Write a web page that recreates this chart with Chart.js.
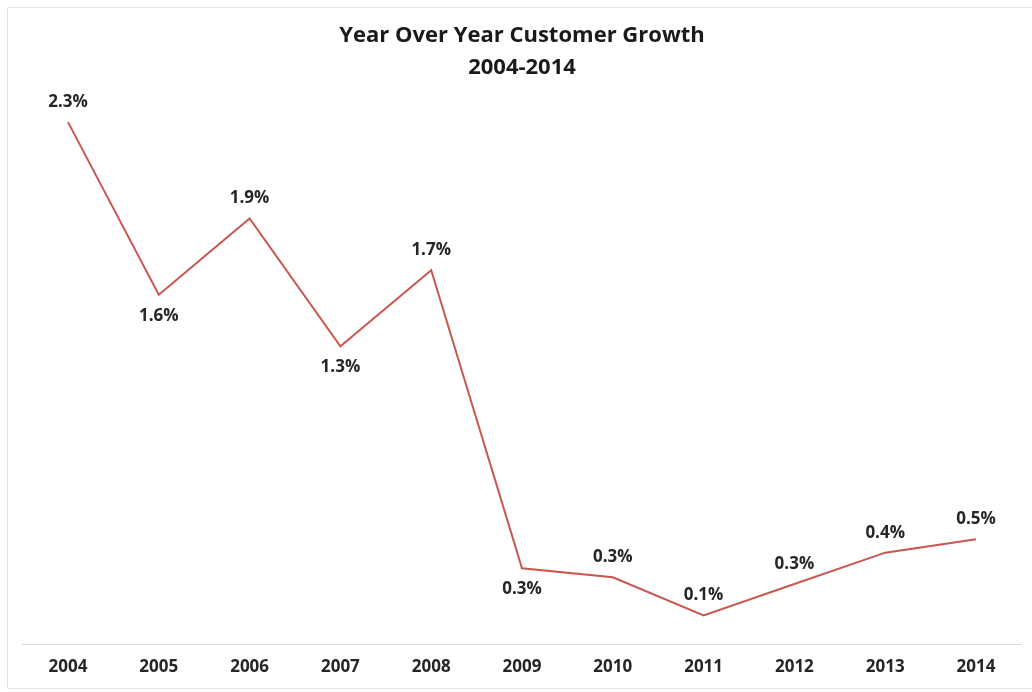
<!DOCTYPE html>
<html>
<head>
<meta charset="utf-8">
<script src="https://cdn.jsdelivr.net/npm/chart.js@4"></script>
<style>
  html, body { margin: 0; padding: 0; background: #fff; }
  #wrap { width: 1032px; height: 692px; position: relative; }
</style>
</head>
<body>
<div id="wrap"><canvas id="c" width="1032" height="692"></canvas></div>
<script>
const years = ['2004','2005','2006','2007','2008','2009','2010','2011','2012','2013','2014'];
const growth = [2.33, 1.56, 1.90, 1.33, 1.67, 0.34, 0.30, 0.13, 0.27, 0.41, 0.47];
const labelSide = ['above','below','above','below','above','below','above','above','above','above','above'];

const frame = {
  id: 'frame',
  beforeDraw(chart) {
    const ctx = chart.ctx;
    ctx.save();
    ctx.fillStyle = '#ffffff';
    ctx.fillRect(0, 0, chart.width, chart.height);
    ctx.strokeStyle = '#e3e3e3';
    ctx.lineWidth = 1;
    ctx.beginPath();
    ctx.moveTo(1032, 7.5); ctx.lineTo(7.5, 7.5); ctx.lineTo(7.5, 688.5); ctx.lineTo(1032, 688.5);
    ctx.stroke();
    ctx.restore();
  }
};

const valueLabels = {
  id: 'valueLabels',
  afterDatasetsDraw(chart) {
    const ctx = chart.ctx;
    const meta = chart.getDatasetMeta(0);
    ctx.save();
    ctx.font = 'bold 17px "Open Sans", sans-serif';
    ctx.fillStyle = '#262626';
    ctx.textAlign = 'center';
    ctx.textBaseline = 'middle';
    meta.data.forEach((pt, i) => {
      const v = chart.data.datasets[0].data[i];
      const dy = labelSide[i] === 'above' ? -20 : 21;
      ctx.fillText(v.toFixed(1) + '%', pt.x, pt.y + dy);
    });
    ctx.restore();
  }
};

new Chart(document.getElementById('c'), {
  type: 'line',
  data: {
    labels: years,
    datasets: [{
      data: growth,
      borderColor: '#c9574f',
      borderWidth: 2,
      pointRadius: 0,
      tension: 0,
      fill: false
    }]
  },
  options: {
    responsive: false,
    animation: false,
    layout: { padding: { left: 22.6, right: 10.6, top: 0, bottom: 3 } },
    plugins: {
      legend: { display: false },
      tooltip: { enabled: false },
      title: {
        display: true,
        text: ['Year Over Year Customer Growth', '2004-2014'],
        color: '#1a1a1a',
        font: { family: '"Open Sans", sans-serif', size: 22, weight: 'bold', lineHeight: 1.4545 },
        padding: { top: 20, bottom: 0 }
      }
    },
    scales: {
      x: {
        offset: true,
        grid: { display: false, drawTicks: false },
        border: { display: true, color: '#d9d9d9', width: 1 },
        ticks: {
          color: '#262626',
          padding: 12,
          font: { family: '"Open Sans", sans-serif', size: 17, weight: 'bold' },
          maxRotation: 0
        }
      },
      y: {
        display: false,
        min: 0,
        max: 2.5
      }
    }
  },
  plugins: [frame, valueLabels]
});
</script>
</body>
</html>
